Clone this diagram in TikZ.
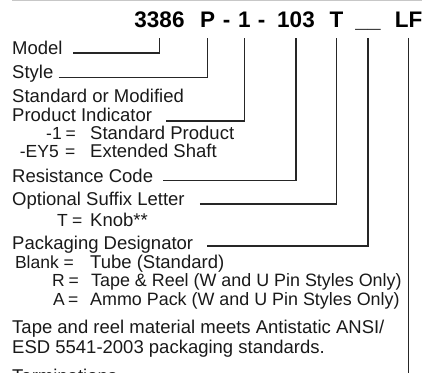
\documentclass[tikz,border=0pt]{standalone}
\usepackage{fontspec}
\setmainfont{Liberation Sans}
\begin{document}
\begin{tikzpicture}[x=1pt,y=1pt,
  lbl/.style={anchor=base west,inner sep=0pt,font=\fontsize{18.5}{20}\selectfont,text=black!90},
  lbls/.style={anchor=base west,inner sep=0pt,font=\fontsize{17.9}{20}\selectfont,text=black!90},
  code/.style={anchor=base east,inner sep=0pt,font=\fontsize{17.5}{20}\selectfont,text=black!90},
  eq/.style={anchor=base west,inner sep=0pt,font=\fontsize{17.5}{20}\selectfont,text=black!90},
  hdr/.style={anchor=base,inner sep=0pt,font=\fontsize{22.5}{24}\selectfont\bfseries,text=black},
  conn/.style={line width=1.3pt,draw=black!85}]
\useasboundingbox (0,0) rectangle (435,372);
\clip (0,0) rectangle (435,372);
% top rule
\coordinate (ruleL) at (12,371.2);
\coordinate (ruleR) at (422,371.2);
\draw[line width=1.2pt,draw=black!22] (ruleL) -- (ruleR);
% header
\node[hdr] (h3386) at (159.5,344) {3386};
\node[hdr] (hP) at (207.5,344) {P};
\node[hdr] (hd1) at (226.7,344) {-};
\node[hdr] (h1) at (244.5,344) {1};
\node[hdr] (hd2) at (261.7,344) {-};
\node[hdr] (h103) at (296,344) {103};
\node[hdr] (hT) at (336.5,344) {T};
\node[hdr] (hU) at (368,344) {\_\_};
\node[hdr] (hLF) at (408.5,344) {LF};
% labels
\node[lbl] (model) at (12,317) {Model};
\node[lbl] (style) at (12,293) {Style};
\node[lbl] (std) at (12,269) {Standard or Modified};
\node[lbl] (prod) at (12,250) {Product Indicator};
\node[code] (c1) at (62,232) {-1};
\node[eq] (e1) at (65.5,232) {=};
\node[lbl] (d1) at (90,232) {Standard Product};
\node[code] (c2) at (59,214) {-EY5};
\node[eq] (e2) at (65,214) {=};
\node[lbl] (d2) at (90,214) {Extended Shaft};
\node[code] (c3) at (68,146) {T};
\node[eq] (e3) at (72,146) {=};
\node[lbl] (d3) at (90,146) {Knob**};
\node[lbl] (res) at (12,189) {Resistance Code};
\node[lbl] (opt) at (12,167) {Optional Suffix Letter};
\node[lbl] (pack) at (12,123) {Packaging Designator};
\node[code] (c4) at (59,104) {Blank};
\node[eq] (e4) at (63.5,104) {=};
\node[lbl] (d4) at (90,104) {Tube (Standard)};
\node[code] (c5) at (65,86) {R};
\node[eq] (e5) at (68.5,86) {=};
\node[lbls] (d5) at (91,86) {Tape \& Reel (W and U Pin Styles Only)};
\node[code] (c6) at (65,67) {A};
\node[eq] (e6) at (68,67) {=};
\node[lbls] (d6) at (90,67) {Ammo Pack (W and U Pin Styles Only)};
\node[lbl] (tape1) at (12,39) {Tape and reel material meets Antistatic ANSI/};
\node[lbl] (tape2) at (12,19) {ESD 5541-2003 packaging standards.};
\node[lbl] (term) at (12,-10) {Terminations};
% connectors
\draw[conn] ([xshift=10.6pt,yshift=-0.5pt]model.mid east) -| ([yshift=-10pt]h3386.base);
\draw[conn] ([xshift=5pt,yshift=-1pt]style.mid east) -| ([yshift=-10pt]hP.base);
\draw[conn] ([xshift=14pt,yshift=-1.5pt]prod.mid east) -| ([yshift=-10pt]h1.base);
\draw[conn] ([xshift=10pt]res.mid east) -| ([yshift=-10pt]h103.base);
\draw[conn] ([xshift=15pt,yshift=-1.5pt]opt.mid east) -| ([yshift=-10pt]hT.base);
\draw[conn] ([xshift=14pt,yshift=0.5pt]pack.mid east) -| ([yshift=-10pt]hU.base);
\coordinate (lfend) at (408.5,-2);
\draw[conn] ([yshift=-10pt]hLF.base) -- (lfend);
\end{tikzpicture}
\end{document}
